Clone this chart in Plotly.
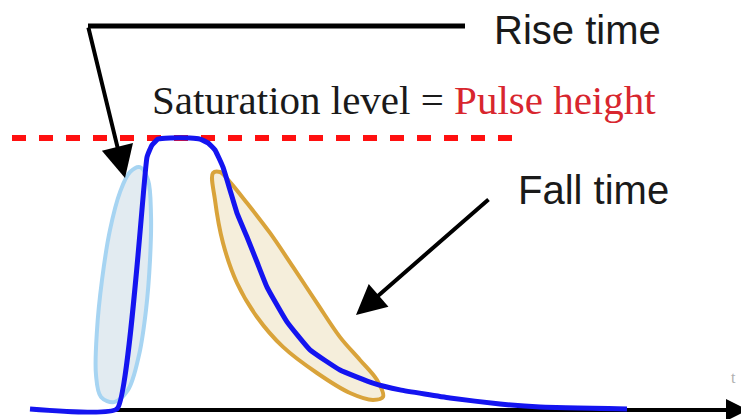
import plotly.graph_objects as go

# pulse trace: time (px-like units) and amplitude (1 = saturation level)
pulse_t = [30, 117, 147, 152, 158, 170, 190, 200, 208, 215, 223, 230, 237, 247,
           257, 267, 287, 310, 340, 373, 400, 450, 500, 540, 627]
pulse_amp = [0.004, 0.004, 0.930, 0.974, 0.996, 1.0, 1.0, 0.996, 0.982, 0.956, 0.893,
             0.809, 0.724, 0.636, 0.544, 0.452, 0.324, 0.221, 0.147, 0.099,
             0.074, 0.044, 0.022, 0.011, 0.004]

# outline of the rise-time region (light blue)
rise_t = [140, 148, 151, 150, 146, 139, 128, 114, 101, 96, 97, 102, 110, 120, 130, 140]
rise_amp = [0.893, 0.846, 0.717, 0.551, 0.368, 0.202, 0.074, 0.029, 0.048, 0.129,
            0.294, 0.478, 0.662, 0.801, 0.875, 0.893]

# outline of the fall-time region (orange)
fall_t = [213, 215, 223, 237, 257, 283, 317, 350, 373, 383, 377, 360, 340, 317,
          293, 270, 247, 230, 220, 213]
fall_amp = [0.871, 0.772, 0.614, 0.467, 0.342, 0.232, 0.136, 0.0625, 0.037, 0.048,
            0.110, 0.184, 0.268, 0.393, 0.526, 0.651, 0.761, 0.838, 0.875, 0.871]

sat_t = [12, 513]
sat_level = 1.0

axis_t = [115, 748]

# annotation anchors (t, amplitude)
rise_label = (492, 1.397)
rise_line = [(465, 1.412), (88, 1.412), (125, 0.853)]
fall_label = (516, 0.809)
fall_arrow = [(490, 0.779), (356, 0.349)]
sat_label = (150, 1.14)
t_label = (733, 0.118)

# page body has an 8px margin, shift the axes to compensate
PAD = 8
PX = 272  # pixels per unit amplitude

fig = go.Figure()

# time axis (line part)
fig.add_trace(go.Scatter(x=[axis_t[0], axis_t[1] - 20], y=[0, 0], mode="lines",
                         line=dict(color="black", width=4), hoverinfo="skip"))

# saturation level
fig.add_trace(go.Scatter(x=sat_t, y=[sat_level] * 2, mode="lines",
                         line=dict(color="#ff1010", width=6, dash="14px,13px"),
                         hoverinfo="skip"))

# regions
fig.add_trace(go.Scatter(x=rise_t, y=rise_amp, mode="lines", fill="toself",
                         fillcolor="#e2ebf1", line=dict(color="#a6d4f2", width=4, shape="spline"),
                         hoverinfo="skip"))
fig.add_trace(go.Scatter(x=fall_t, y=fall_amp, mode="lines", fill="toself",
                         fillcolor="#f5eedb", line=dict(color="#d9a33a", width=4, shape="spline"),
                         hoverinfo="skip"))

# pulse
fig.add_trace(go.Scatter(x=pulse_t, y=pulse_amp, mode="lines",
                         line=dict(color="#1414f0", width=5, shape="spline", smoothing=0.35),
                         hoverinfo="skip"))

# rise time pointer
fig.add_trace(go.Scatter(x=[p[0] for p in rise_line[:2]], y=[p[1] for p in rise_line[:2]],
                         mode="lines", line=dict(color="black", width=5), hoverinfo="skip"))
fig.add_annotation(x=rise_line[2][0], y=rise_line[2][1], ax=rise_line[1][0], ay=rise_line[1][1],
                   axref="x", ayref="y", xref="x", yref="y", text="", showarrow=True,
                   arrowhead=2, arrowsize=1.6, arrowwidth=4, arrowcolor="black")
# fall time pointer
fig.add_annotation(x=fall_arrow[1][0], y=fall_arrow[1][1], ax=fall_arrow[0][0], ay=fall_arrow[0][1],
                   axref="x", ayref="y", xref="x", yref="y", text="", showarrow=True,
                   arrowhead=2, arrowsize=1.5, arrowwidth=4, arrowcolor="black")
# axis arrowhead
fig.add_annotation(x=axis_t[1], y=0, ax=axis_t[1] - 30, ay=0, axref="x", ayref="y",
                   text="", showarrow=True, arrowhead=2, arrowsize=1.1, arrowwidth=4,
                   arrowcolor="black")

fig.add_annotation(x=rise_label[0], y=rise_label[1], text="Rise time", showarrow=False,
                   xanchor="left", yanchor="middle",
                   font=dict(family="Liberation Sans", size=40, color="#1a1a1a"))
fig.add_annotation(x=fall_label[0], y=fall_label[1], text="Fall time", showarrow=False,
                   xanchor="left", yanchor="middle",
                   font=dict(family="Liberation Sans", size=40, color="#1a1a1a"))
fig.add_annotation(x=sat_label[0], y=sat_label[1],
                   text="Saturation level = <span style='color:#d8262e'>Pulse height</span>",
                   showarrow=False, xanchor="left", yanchor="middle",
                   font=dict(family="Liberation Serif", size=41, color="#1a1a1a"))
fig.add_annotation(x=t_label[0], y=t_label[1], text="t", showarrow=False,
                   font=dict(family="Liberation Serif", size=16, color="#b0b0b0"))

fig.update_layout(
    width=749, height=419,
    margin=dict(l=0, r=0, t=0, b=0),
    paper_bgcolor="white", plot_bgcolor="white",
    showlegend=False,
)
fig.update_xaxes(range=[PAD, 749 + PAD], visible=False)
fig.update_yaxes(range=[(410 - 419 - PAD) / PX, (410 - PAD) / PX], visible=False)

fig.write_html("out.html")
